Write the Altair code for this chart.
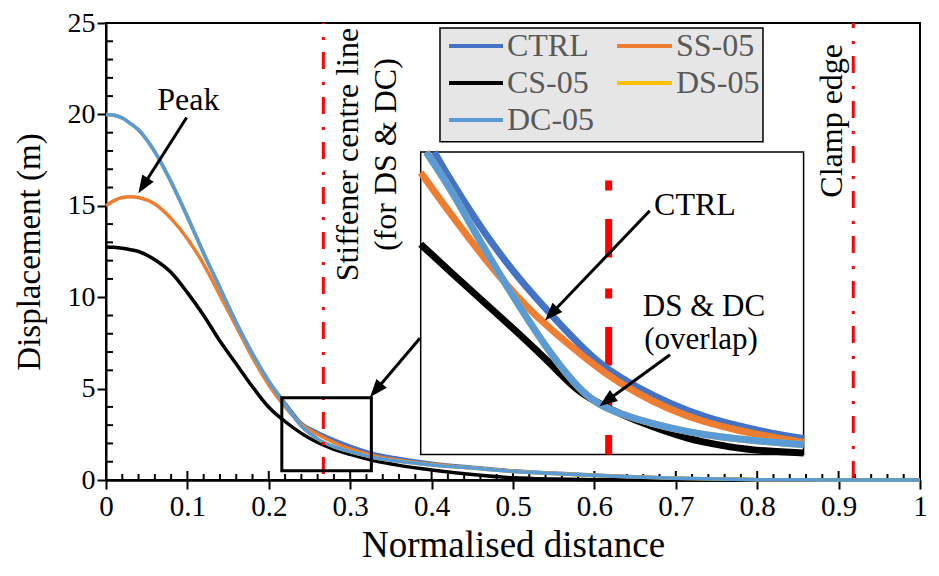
import math
import altair as alt
import pandas as pd

# ---------------- data ----------------
SERIES = ["CTRL", "SS-05", "CS-05", "DS-05", "DC-05"]
COLORS = ["#4472C4", "#ED7D31", "#000000", "#FFC000", "#5B9BD5"]

X_MAIN = [0, 0.01, 0.02, 0.03, 0.04, 0.06, 0.08, 0.10, 0.12, 0.14, 0.16, 0.18, 0.20,
          0.22, 0.24, 0.26, 0.28, 0.30, 0.33, 0.36, 0.40, 0.45, 0.50, 0.55, 0.60,
          0.65, 0.70, 0.75, 0.80, 0.85, 0.90, 0.95, 1.00]
CTRL_MAIN = [20.0, 19.95, 19.8, 19.5, 19.15, 17.95, 16.3, 14.4, 12.4, 10.5, 8.6, 6.9, 5.4,
             4.2, 3.1, 2.6, 2.2, 1.85, 1.42, 1.18, 0.92, 0.7, 0.5, 0.38, 0.27,
             0.18, 0.1, 0.05, 0.02, 0.01, 0.0, 0.0, 0.0]
SS05_MAIN = [15.0, 15.28, 15.45, 15.5, 15.45, 15.1, 14.3, 13.2, 11.8, 10.1, 8.4, 6.7, 5.2,
             4.0, 3.05, 2.5, 2.05, 1.7, 1.32, 1.08, 0.86, 0.66, 0.48, 0.36, 0.25,
             0.16, 0.09, 0.05, 0.02, 0.01, 0.0, 0.0, 0.0]
CS05_MAIN = [12.75, 12.73, 12.68, 12.6, 12.5, 12.05, 11.35, 10.25, 9.0, 7.6, 6.35, 5.1, 3.98,
             3.2, 2.55, 2.05, 1.68, 1.4, 1.05, 0.8, 0.55, 0.3, 0.12, 0.05, 0.02,
             0.01, 0.0, 0.0, 0.0, 0.0, 0.0, 0.0, 0.0]
DS05_MAIN = [20.0, 19.95, 19.8, 19.5, 19.15, 17.95, 16.3, 14.4, 12.4, 10.5, 8.6, 6.9, 5.4,
             4.1, 2.95, 2.25, 1.82, 1.55, 1.22, 1.02, 0.82, 0.65, 0.47, 0.35, 0.25,
             0.17, 0.1, 0.05, 0.02, 0.01, 0.0, 0.0, 0.0]
DC05_MAIN = [20.0, 19.95, 19.8, 19.5, 19.15, 17.95, 16.3, 14.4, 12.4, 10.5, 8.6, 6.9, 5.4,
             4.1, 2.95, 2.25, 1.82, 1.55, 1.22, 1.02, 0.82, 0.65, 0.47, 0.35, 0.25,
             0.17, 0.1, 0.05, 0.02, 0.01, 0.0, 0.0, 0.0]

# zoomed inset (its own axes: x 0.216-0.326, y 0.5-4.5)
CTRL_INSET_X = [0.2199, 0.2249, 0.2345, 0.2442, 0.2538, 0.2635, 0.2697, 0.2780, 0.2876, 0.2972, 0.3069, 0.3165, 0.3260]
CTRL_INSET_Y = [4.50, 4.10, 3.41, 2.82, 2.33, 1.86, 1.62, 1.39, 1.17, 1.00, 0.88, 0.78, 0.71]
SS05_INSET_X = [0.2160, 0.2249, 0.2345, 0.2442, 0.2538, 0.2635, 0.2697, 0.2780, 0.2876, 0.2972, 0.3069, 0.3165, 0.3260]
SS05_INSET_Y = [4.23, 3.66, 3.08, 2.55, 2.13, 1.77, 1.55, 1.31, 1.09, 0.93, 0.82, 0.73, 0.66]
CS05_INSET_X = [0.2160, 0.2249, 0.2345, 0.2442, 0.2538, 0.2606, 0.2673, 0.2731, 0.2828, 0.2924, 0.3021, 0.3117, 0.3260]
CS05_INSET_Y = [3.28, 2.90, 2.50, 2.10, 1.68, 1.35, 1.17, 1.04, 0.86, 0.71, 0.62, 0.55, 0.52]
DS05_INSET_X = [0.2176, 0.2249, 0.2297, 0.2394, 0.2471, 0.2538, 0.2615, 0.2673, 0.2731, 0.2828, 0.2924, 0.3021, 0.3117, 0.3260]
DS05_INSET_Y = [4.50, 3.99, 3.59, 2.82, 2.26, 1.80, 1.36, 1.15, 1.04, 0.90, 0.80, 0.73, 0.68, 0.63]
DC05_INSET_X = [0.2176, 0.2249, 0.2297, 0.2394, 0.2471, 0.2538, 0.2615, 0.2673, 0.2731, 0.2828, 0.2924, 0.3021, 0.3117, 0.3260]
DC05_INSET_Y = [4.50, 3.99, 3.59, 2.82, 2.26, 1.80, 1.36, 1.15, 1.04, 0.90, 0.80, 0.73, 0.68, 0.63]

STIFFENER_X = 0.267
CLAMP_X = 0.918
INSET_STIFFENER_X = 0.270

X_TICKS = [0, 0.1, 0.2, 0.3, 0.4, 0.5, 0.6, 0.7, 0.8, 0.9, 1]
Y_TICKS = [0, 5, 10, 15, 20, 25]

# ---------------- layout / style ----------------
W, H = 814, 457
FONT = "Times New Roman, Liberation Serif, DejaVu Serif, serif"
ZOOM = {"x0": 0.216, "x1": 0.326, "y0": 0.5, "y1": 4.5}        # region shown in the inset
INSET = {"x0": 0.3866, "x1": 0.857, "y0": 1.40, "y1": 17.94}    # inset placement (main units)
LEGEND_BOX = {"x0": 0.4103, "x1": 0.8071, "y0": 18.50, "y1": 24.73}
LEGEND_COLS = [(0.4214, 0.4877, 0.4926), (0.6278, 0.6953, 0.7002)]  # line start, line end, label x
LEGEND_ROWS = [23.74, 21.72, 19.70]

TEXTS = [
    {"x": 0.1011, "y": 20.8, "text": "Peak", "size": 32},
    {"x": 0.7236, "y": 15.07, "text": "CTRL", "size": 32},
    {"x": 0.7346, "y": 9.45, "text": "DS & DC", "size": 31},
    {"x": 0.7310, "y": 7.64, "text": "(overlap)", "size": 31},
]
VTEXTS = [
    {"x": 0.2967, "y": 17.8, "text": ["Stiffener centre line", "(for DS & DC)"]},
    {"x": 0.8925, "y": 19.65, "text": ["Clamp edge"]},
]
ARROWS = [  # tail x, tail y, tip x, tip y (main units)
    (0.0991, 19.83, 0.0397, 15.68),
    (0.3857, 7.75, 0.3243, 4.53),
    (0.6680, 14.73, 0.5393, 8.73),
    (0.6929, 6.85, 0.6061, 4.04),
]

# ---------------- build ----------------
rows = []
for name, ys in zip(SERIES, [CTRL_MAIN, SS05_MAIN, CS05_MAIN, DS05_MAIN, DC05_MAIN]):
    for x, y in zip(X_MAIN, ys):
        rows.append({"series": name, "x": x, "y": y})
df_main = pd.DataFrame(rows)

rows = []
inset_src = {"CTRL": (CTRL_INSET_X, CTRL_INSET_Y), "SS-05": (SS05_INSET_X, SS05_INSET_Y),
             "CS-05": (CS05_INSET_X, CS05_INSET_Y), "DS-05": (DS05_INSET_X, DS05_INSET_Y),
             "DC-05": (DC05_INSET_X, DC05_INSET_Y)}
for name in SERIES:
    xs, ys = inset_src[name]
    for i, (x, y) in enumerate(zip(xs, ys)):
        rows.append({"series": name, "ix": x, "iy": y, "k": i})
df_inset = pd.DataFrame(rows)

xscale = alt.Scale(domain=[0, 1], nice=False, zero=False)
yscale = alt.Scale(domain=[0, 25], nice=False, zero=False)
x_axis = alt.Axis(values=X_TICKS, format="~g", title="Normalised distance", grid=False,
                  labelFont=FONT, labelFontSize=29, labelColor="black", labelPadding=3,
                  labelFlush=False, labelOverlap=False,
                  tickSize=9, tickWidth=2, tickColor="black",
                  domainColor="black", domainWidth=2.5,
                  titleFont=FONT, titleFontSize=37, titleFontWeight="normal",
                  titleColor="black", titleY=47)
y_axis = alt.Axis(values=Y_TICKS, title="Displacement (m)", grid=False,
                  labelFont=FONT, labelFontSize=28, labelColor="black", labelPadding=2,
                  labelOverlap=False,
                  tickSize=9, tickWidth=2, tickColor="black",
                  domainColor="black", domainWidth=2,
                  titleFont=FONT, titleFontSize=33, titleFontWeight="normal",
                  titleColor="black", titleX=-60, titleY=H / 2)


def X(f="x"):
    return alt.X(f"{f}:Q", scale=xscale, axis=x_axis)


def Y(f="y"):
    return alt.Y(f"{f}:Q", scale=yscale, axis=y_axis)


color = alt.Color("series:N", scale=alt.Scale(domain=SERIES, range=COLORS), legend=None)

layers = []

# minor ticks inside the frame
y_minor = pd.DataFrame({"y": [v for v in range(1, 25) if v % 5]})
layers.append(alt.Chart(y_minor).mark_rule(color="black", strokeWidth=2).encode(
    y=Y(), x=alt.value(0), x2=alt.value(7)))
x_minor = pd.DataFrame({"x": [round(0.02 * i, 2) for i in range(1, 50) if i % 5]})
layers.append(alt.Chart(x_minor).mark_rule(color="black", strokeWidth=2).encode(
    x=X(), y=alt.value(H), y2=alt.value(H - 6)))
x_major = pd.DataFrame({"x": X_TICKS[1:-1]})
layers.append(alt.Chart(x_major).mark_rule(color="black", strokeWidth=2).encode(
    x=X(), y=alt.value(H), y2=alt.value(H - 9)))

# main curves
for name in SERIES:
    layers.append(alt.Chart(df_main).transform_filter(alt.datum.series == name)
                  .mark_line(strokeWidth=3.5, interpolate="monotone")
                  .encode(x=X(), y=Y(), color=color, order="x:Q"))

# red dash-dot lines
for xv, off in [(STIFFENER_X, 16), (CLAMP_X, 12)]:
    layers.append(alt.Chart(pd.DataFrame([{"x": xv, "y": 25, "y2": 0}])).mark_rule(
        color="#FF0000", strokeWidth=3, strokeDash=[17, 13, 3, 12],
        strokeDashOffset=off).encode(x=X(), y=Y(), y2="y2:Q"))

# zoom box
layers.append(alt.Chart(pd.DataFrame([ZOOM])).mark_rect(
    fill="white", fillOpacity=0, stroke="black", strokeWidth=3).encode(
    x=X("x0"), x2="x1:Q", y=Y("y0"), y2="y1:Q"))

# inset frame
layers.append(alt.Chart(pd.DataFrame([INSET])).mark_rect(
    fill="white", stroke="black", strokeWidth=1.5).encode(
    x=X("x0"), x2="x1:Q", y=Y("y0"), y2="y1:Q"))

fx = f"{INSET['x0']} + (datum.ix - {ZOOM['x0']}) / ({ZOOM['x1']} - {ZOOM['x0']}) * ({INSET['x1']} - {INSET['x0']})"
fy = f"{INSET['y0']} + (datum.iy - {ZOOM['y0']}) / ({ZOOM['y1']} - {ZOOM['y0']}) * ({INSET['y1']} - {INSET['y0']})"
fy2 = fy.replace("datum.iy", "datum.iy2")

# inset red dashed line
il = pd.DataFrame([{"ix": INSET_STIFFENER_X, "iy": ZOOM["y1"], "iy2": ZOOM["y0"]}])
layers.append(alt.Chart(il).transform_calculate(x=fx, y=fy, y2=fy2).mark_rule(
    color="#FF0000", strokeWidth=7, strokeDash=[10, 28.5, 38.5, 31], strokeDashOffset=79.5).encode(
    x=X(), y=Y(), y2="y2:Q"))

# inset curves
for name in SERIES:
    layers.append(alt.Chart(df_inset).transform_filter(alt.datum.series == name)
                  .transform_calculate(x=fx, y=fy)
                  .mark_line(strokeWidth=7, interpolate="basis")
                  .encode(x=X(), y=Y(), color=color, order="k:Q"))

# legend (drawn as a boxed key, two columns)
leg_rows = []
for i, name in enumerate(SERIES):
    c0, c1, lx = LEGEND_COLS[i % 2]
    leg_rows.append({"series": name, "x": c0, "x2": c1, "lx": lx, "y": LEGEND_ROWS[i // 2]})
df_leg = pd.DataFrame(leg_rows)
layers.append(alt.Chart(pd.DataFrame([LEGEND_BOX])).mark_rect(
    fill="#E7E6E6", stroke="black", strokeWidth=1.5).encode(
    x=X("x0"), x2="x1:Q", y=Y("y0"), y2="y1:Q"))
layers.append(alt.Chart(df_leg).mark_rule(strokeWidth=4).encode(
    x=X(), x2="x2:Q", y=Y(), color=color))
layers.append(alt.Chart(df_leg).mark_text(
    font=FONT, fontSize=32, color="#595959", align="left", baseline="middle").encode(
    x=X("lx"), y=Y(), text="series:N"))

# arrows
SX, SY = W / 1.0, H / 25.0
HEAD = 18
arows, heads = [], []
for (x0, y0, x1, y1) in ARROWS:
    dx, dy = (x1 - x0) * SX, -(y1 - y0) * SY
    L = math.hypot(dx, dy)
    ux, uy = dx / L, dy / L
    cx, cy = x1 - ux * HEAD / 2 / SX, y1 + uy * HEAD / 2 / SY
    ex, ey = x1 - ux * HEAD * 0.7 / SX, y1 + uy * HEAD * 0.7 / SY
    ang = math.degrees(math.atan2(ux, -uy)) % 360
    arows.append({"x": x0, "y": y0, "x2": ex, "y2": ey})
    heads.append({"x": cx, "y": cy, "angle": ang})
layers.append(alt.Chart(pd.DataFrame(arows)).mark_rule(color="black", strokeWidth=3).encode(
    x=X(), y=Y(), x2="x2:Q", y2="y2:Q"))
layers.append(alt.Chart(pd.DataFrame(heads)).mark_point(
    shape="M0,-1L-0.75,1L0.75,1Z", filled=True, color="black", opacity=1, size=HEAD * HEAD,
    strokeWidth=0).encode(x=X(), y=Y(), angle=alt.Angle("angle:Q", scale=None)))

# texts
layers.append(alt.Chart(pd.DataFrame(TEXTS)).mark_text(
    font=FONT, color="black", align="center", baseline="middle").encode(
    x=X(), y=Y(), text="text:N", size=alt.Size("size:Q", scale=None)))
layers.append(alt.Chart(pd.DataFrame(VTEXTS)).mark_text(
    font=FONT, fontSize=32, color="black", align="center", baseline="middle", angle=270,
    lineHeight=38).encode(x=X(), y=Y(), text="text"))

chart = alt.layer(*layers).properties(
    width=W, height=H,
    padding={"left": 98, "top": 15, "right": 8, "bottom": 86},
    autosize=alt.AutoSizeParams(type="none"),
).configure_view(stroke="black", strokeWidth=2)

chart.save("out.html", embed_options={"renderer": "svg", "actions": False})
